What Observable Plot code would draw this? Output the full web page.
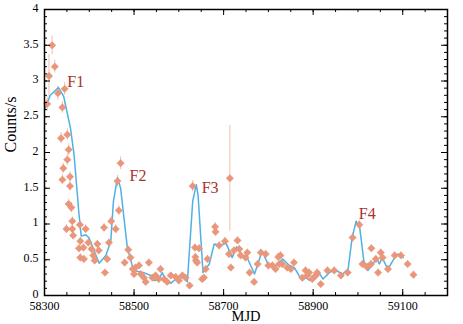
<!DOCTYPE html>
<html><head><meta charset="utf-8">
<script src="https://cdn.jsdelivr.net/npm/d3@7"></script>
<script src="https://cdn.jsdelivr.net/npm/@observablehq/plot@0.6"></script>
<style>
body{margin:0;background:#fff;}
svg, svg text {font-family: "Liberation Serif", "Times New Roman", serif !important;}
</style>
</head><body><div id="chart"></div>
<script>
// Observed points (MJD, counts/s, 1-sigma error)
const mjd = [58306,58310,58317,58323,58330,58337,58340,58345,58351,58354,
58351,58342,58340,58357,58357,58354,58360,58362,58349,58362,
58364,58379,58392,58380,58377,58387,58398,58380,58388,58405,
58409,58418,58421,58412,58433,58440,58435,58444,58449,58459,
58463,58470,58466,58487,58479,58492,58497,58503,58511,58500,
58515,58522,58533,58526,58541,58548,58559,58555,58567,58574,
58582,58593,58600,58608,58615,58624,58631,58636,58637,58638,
58645,58641,58652,58656,58664,58660,58681,58682,58690,58703,
58714,58712,58716,58723,58731,58735,58738,58749,58753,58758,
58768,58776,58783,58794,58800,58809,58816,58822,58827,58824,
58831,58842,58850,58857,58876,58883,58887,58891,58898,58909,
58906,58917,58932,58947,58962,58977,58988,59003,59010,59020,
59030,59029,59045,59040,59051,59055,59067,59082,59096,59111,59124];
const counts = [2.68,3.07,3.50,3.20,2.83,2.20,2.63,2.89,2.25,2.04,
1.90,1.78,1.62,1.66,1.53,1.28,1.23,1.04,0.93,0.93,
0.84,0.99,0.93,0.76,0.66,0.67,0.74,0.53,0.51,0.65,
0.56,0.72,0.63,0.49,0.95,0.51,0.32,0.74,1.04,0.93,
1.60,1.85,1.19,0.64,0.46,0.53,0.37,0.39,0.42,0.30,
0.30,0.25,0.46,0.19,0.25,0.28,0.37,0.23,0.23,0.19,
0.28,0.26,0.21,0.28,0.25,0.14,1.53,0.67,0.54,0.49,
0.66,0.46,0.23,0.25,0.51,0.37,0.96,0.89,0.70,0.76,
1.64,0.58,0.39,0.63,0.77,0.65,0.56,0.53,0.60,0.32,
0.19,0.44,0.60,0.58,0.42,0.42,0.37,0.54,0.56,0.44,
0.44,0.39,0.37,0.46,0.25,0.35,0.28,0.32,0.23,0.32,
0.28,0.16,0.35,0.35,0.28,0.32,0.81,0.99,0.44,0.40,
0.66,0.44,0.32,0.51,0.60,0.53,0.37,0.56,0.56,0.44,0.29];
const errs = [0.10,0.30,0.13,0.09,0.10,0.08,0.08,0.09,0.08,0.08,
0.08,0.07,0.07,0.07,0.07,0.07,0.07,0.06,0.06,0.06,
0.06,0.06,0.06,0.05,0.05,0.05,0.05,0.05,0.05,0.05,
0.05,0.05,0.05,0.05,0.06,0.05,0.05,0.05,0.06,0.06,
0.08,0.09,0.07,0.05,0.05,0.05,0.05,0.05,0.05,0.05,
0.04,0.04,0.05,0.04,0.04,0.04,0.05,0.04,0.04,0.04,
0.04,0.04,0.04,0.04,0.04,0.04,0.08,0.05,0.05,0.05,
0.05,0.05,0.04,0.04,0.05,0.05,0.06,0.06,0.05,0.05,
0.74,0.05,0.05,0.05,0.05,0.05,0.05,0.05,0.05,0.05,
0.04,0.05,0.05,0.05,0.05,0.05,0.05,0.05,0.05,0.05,
0.05,0.05,0.05,0.05,0.04,0.05,0.04,0.05,0.04,0.05,
0.04,0.04,0.05,0.05,0.04,0.05,0.06,0.06,0.05,0.05,
0.05,0.05,0.05,0.05,0.05,0.05,0.05,0.05,0.05,0.05,0.05];

// Smoothed model curve
const lineMjd = [58300,58313,58331,58343,58358,58366,58377,58382,58392,58399,
58422,58437,58448,58454,58463,58470,58485,58499,58522,58537,
58545,58555,58563,58570,58582,58593,58600,58612,58619,58631,
58639,58643,58654,58668,58679,58694,58705,58719,58729,58742,
58754,58769,58786,58799,58811,58821,58832,58847,58858,58875,
58884,58892,58903,58914,58922,58936,58948,58966,58978,58987,
58996,59004,59013,59022,59034,59041,59048,59054,59067,59082,
59090,59101];
const lineCounts = [2.60,2.80,2.91,2.78,2.34,1.97,1.14,0.83,0.85,0.81,
0.45,0.56,0.76,1.32,1.65,1.50,0.67,0.35,0.32,0.28,
0.21,0.22,0.32,0.23,0.17,0.23,0.26,0.25,0.19,1.32,
1.55,1.40,0.32,0.44,0.72,0.70,0.74,0.53,0.68,0.56,
0.51,0.30,0.62,0.44,0.39,0.44,0.51,0.42,0.39,0.21,
0.25,0.21,0.30,0.31,0.23,0.32,0.36,0.30,0.37,0.81,
1.04,0.95,0.49,0.35,0.44,0.53,0.44,0.53,0.37,0.53,
0.58,0.53];

// Flare labels
const flareNames = ["F1","F2","F3","F4"];
const flareMjd = [58351,58490,58651,59002];
const flareCounts = [2.91,1.60,1.43,1.07];

// Tick labels
const xTickLabels = [58300,58500,58700,58900,59100];
const yTickLabels = [0,0.5,1,1.5,2,2.5,3,3.5,4];
const xMinorTicks = d3.range(58300, 59201, 50);
const yMinorTicks = d3.range(0, 41, 1).map(d => d / 10);

const points = mjd.map((m, i) => ({mjd: m, c: counts[i], e: errs[i]}));
const curve = lineMjd.map((m, i) => ({mjd: m, c: lineCounts[i]}));
const flares = flareNames.map((n, i) => ({name: n, mjd: flareMjd[i], c: flareCounts[i]}));

const W = 463, H = 324, mL = 44, mR = 16, mT = 9, mB = 29;
const iW = W - mL - mR, iH = H - mT - mB;
const tickCol = "#000";
const serif = "Liberation Serif";

const chart = Plot.plot({
  width: W, height: H,
  marginLeft: mL, marginRight: mR, marginTop: mT, marginBottom: mB,
  style: {fontFamily: serif, fontSize: "12px", color: "#000", background: "#fff"},
  x: {domain: [58300, 59200], axis: null},
  y: {domain: [0, 4], axis: null},
  marks: [
    // error bars
    Plot.ruleX(points, {x: "mjd", y1: d => d.c - d.e, y2: d => d.c + d.e, stroke: "#f2bfae", strokeWidth: 1}),
    // model line
    Plot.line(curve, {x: "mjd", y: "c", stroke: "#4fb1e6", strokeWidth: 1.5}),
    // points
    Plot.dot(points, {x: "mjd", y: "c", symbol: "diamond2", r: 3.3, fill: "#e9967a", stroke: "#e9967a", strokeWidth: 0.6}),
    // flare labels
    Plot.text(flares, {x: "mjd", y: "c", text: "name", textAnchor: "start", lineAnchor: "bottom", fontSize: 16, fontFamily: serif, fill: "#a83232"}),
    // minor ticks
    Plot.ruleX(xMinorTicks, {x: d => d, insetTop: iH - 3, stroke: tickCol}),
    Plot.ruleX(xMinorTicks, {x: d => d, insetBottom: iH - 3, stroke: tickCol}),
    Plot.ruleY(yMinorTicks, {y: d => d, insetRight: iW - 3, stroke: tickCol}),
    Plot.ruleY(yMinorTicks, {y: d => d, insetLeft: iW - 3, stroke: tickCol}),
    // major ticks
    Plot.ruleX(xTickLabels, {x: d => d, insetTop: iH - 6, stroke: tickCol}),
    Plot.ruleX(xTickLabels, {x: d => d, insetBottom: iH - 6, stroke: tickCol}),
    Plot.ruleY(yTickLabels, {y: d => d, insetRight: iW - 6, stroke: tickCol}),
    Plot.ruleY(yTickLabels, {y: d => d, insetLeft: iW - 6, stroke: tickCol}),
    // tick labels
    Plot.text(xTickLabels, {x: d => d, frameAnchor: "bottom", dy: 11, lineAnchor: "middle", text: d => String(d), fontSize: 12, fontFamily: serif, fill: "#000"}),
    Plot.text(yTickLabels, {y: d => d, frameAnchor: "left", dx: -6, dy: -1.5, textAnchor: "end", lineAnchor: "middle", text: d => String(d), fontSize: 12, fontFamily: serif, fill: "#000"}),
    // axis titles
    Plot.text(["MJD"], {frameAnchor: "bottom", dy: 21, lineAnchor: "middle", text: d => d, fontSize: 14.5, fontFamily: serif, fill: "#000"}),
    Plot.text(["Counts/s"], {frameAnchor: "left", dx: -34, rotate: -90, text: d => d, fontSize: 16, fontFamily: serif, fill: "#000"}),
    Plot.frame({stroke: "#000", strokeWidth: 1.5})
  ]
});
document.getElementById("chart").appendChild(chart);
</script>
</body></html>
